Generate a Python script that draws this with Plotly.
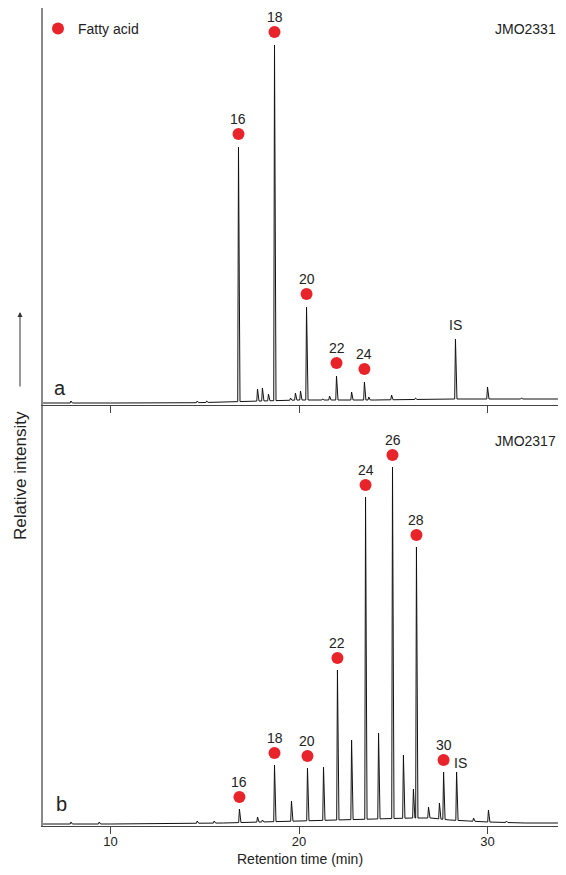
import numpy as np
import plotly.graph_objects as go

# ---------------- data ----------------
# Panel a (JMO2331): peak retention times (min) and apex intensities
a_times = [7.9, 14.6, 15.1, 16.79, 17.80, 18.06, 18.38, 18.70, 19.55, 19.81, 20.08, 20.40,
           21.25, 21.62, 21.99, 22.79, 23.47, 23.7, 24.91, 26.18, 28.30, 30.00, 31.8]
a_heights = [4, 4, 4, 258, 16, 17, 11, 360, 7, 12, 14, 98,
             6, 9, 29, 13, 23, 8, 10, 7, 66, 18, 7]
a_base_t = [6.42, 10, 14, 16, 18, 20, 24, 28, 34.0]
a_base_y = [2, 2, 2, 3, 4, 5, 5, 6, 6]

# Panel b (JMO2317)
b_times = [7.9, 9.4, 14.6, 15.5, 16.84, 17.80, 18.06, 18.70, 19.60, 20.45, 21.30, 22.04,
           22.79, 23.53, 24.22, 24.96, 25.54, 26.07, 26.23, 26.87, 27.45, 27.67,
           28.36, 29.26, 30.05, 31.0]
b_heights = [4, 4, 5, 5, 17, 9, 6, 61, 25, 58, 59, 156,
             86, 329, 93, 359, 71, 37, 279, 19, 23, 54,
             54, 8, 16, 5]
b_base_t = [6.42, 10, 16, 18, 20, 22, 24, 26, 27, 28, 29, 30, 32, 34.0]
b_base_y = [2, 2, 3, 4, 5, 6, 7, 8, 8, 6, 5, 4, 3, 3]

# Fatty acid labels (carbon number) and the peaks they belong to
a_fa_labels = ["16", "18", "20", "22", "24"]
a_fa_times = [16.79, 18.70, 20.40, 21.99, 23.47]
a_fa_heights = [258, 360, 98, 29, 23]

b_fa_labels = ["16", "18", "20", "22", "24", "26", "28", "30"]
b_fa_times = [16.84, 18.70, 20.45, 22.04, 23.53, 24.96, 26.23, 27.67]
b_fa_heights = [17, 61, 58, 156, 329, 359, 279, 54]

# Internal standard
a_is = (28.30, 66)
b_is = (28.36, 54)

x_ticks = [10, 20, 30]

# ---------------- helpers ----------------
def trace_points(times, heights, bt, by, left=0.04, right=0.08):
    pts = []
    for t, y in zip(bt, by):
        if all(abs(t - pt) > 0.12 for pt in times):
            pts.append((t, y))
    for t, h in zip(times, heights):
        pts.append((t - left, float(np.interp(t - left, bt, by))))
        pts.append((t, h))
        pts.append((t + right, float(np.interp(t + right, bt, by))))
    pts.sort(key=lambda p: p[0])
    return [p[0] for p in pts], [p[1] for p in pts]

FONT = "Arial, Liberation Sans, sans-serif"
RED = "#e8232a"
LINE = "#111111"
TXT = "#222222"

ax_t, ax_y = trace_points(a_times, a_heights, a_base_t, a_base_y)
bx_t, bx_y = trace_points(b_times, b_heights, b_base_t, b_base_y)

fig = go.Figure()

fig.add_trace(go.Scatter(x=ax_t, y=ax_y, mode="lines", line=dict(color=LINE, width=1),
                         xaxis="x2", yaxis="y2", showlegend=False, hoverinfo="skip"))
fig.add_trace(go.Scatter(x=bx_t, y=bx_y, mode="lines", line=dict(color=LINE, width=1),
                         xaxis="x", yaxis="y", showlegend=False, hoverinfo="skip"))

A_MOFF = 13  # marker offset above apex (1 unit = 1 px on both panels)
B_MOFF = 12
LOFF = 15
fig.add_trace(go.Scatter(x=a_fa_times, y=[h + A_MOFF for h in a_fa_heights], mode="markers",
                         marker=dict(color=RED, size=12), xaxis="x2", yaxis="y2",
                         name="Fatty acid", showlegend=True))
fig.add_trace(go.Scatter(x=b_fa_times, y=[h + B_MOFF for h in b_fa_heights], mode="markers",
                         marker=dict(color=RED, size=12), xaxis="x", yaxis="y",
                         showlegend=False))

annotations = []
for lab, t, h in zip(a_fa_labels, a_fa_times, a_fa_heights):
    annotations.append(dict(x=t, y=h, xref="x2", yref="y2", text=lab, showarrow=False,
                            yshift=A_MOFF + LOFF, yanchor="middle",
                            font=dict(family=FONT, size=14, color=TXT)))
for lab, t, h in zip(b_fa_labels, b_fa_times, b_fa_heights):
    annotations.append(dict(x=t, y=h, xref="x", yref="y", text=lab, showarrow=False,
                            yshift=B_MOFF + LOFF, yanchor="middle",
                            font=dict(family=FONT, size=14, color=TXT)))
annotations.append(dict(x=a_is[0], y=a_is[1], xref="x2", yref="y2", text="IS", showarrow=False,
                        yshift=14, yanchor="middle", font=dict(family=FONT, size=14, color=TXT)))
annotations.append(dict(x=b_is[0], y=b_is[1], xref="x", yref="y", text="IS", showarrow=False,
                        yshift=9, xshift=4, yanchor="middle", font=dict(family=FONT, size=14, color=TXT)))

# page layout: the page body has an 8 px margin, so the figure starts at (8, 8);
# the figure is kept inside the window so that no scrollbar appears.
FIG_W, FIG_H = 550, 859
PLOT_L, PLOT_R, PLOT_T, PLOT_B = 43, 8 + FIG_W, 8, 826  # page pixels of plot area
H = float(PLOT_B - PLOT_T)
W = float(PLOT_R - PLOT_L)
def py(p):  # page pixel row -> paper y
    return (PLOT_B - p) / H
def px(p):  # page pixel column -> paper x
    return (p - PLOT_L) / W

annotations += [
    dict(x=1.0, y=py(29), xref="paper", yref="paper", text="JMO2331", showarrow=False,
         xanchor="right", yanchor="middle", font=dict(family=FONT, size=14, color=TXT)),
    dict(x=1.0, y=py(441), xref="paper", yref="paper", text="JMO2317", showarrow=False,
         xanchor="right", yanchor="middle", font=dict(family=FONT, size=14, color=TXT)),
    dict(x=px(60), y=py(388), xref="paper", yref="paper", text="a", showarrow=False,
         xanchor="center", yanchor="middle", font=dict(family=FONT, size=20, color=TXT)),
    dict(x=px(61), y=py(804), xref="paper", yref="paper", text="b", showarrow=False,
         xanchor="center", yanchor="middle", font=dict(family=FONT, size=20, color=TXT)),
    dict(x=px(20), y=py(476), xref="paper", yref="paper", text="Relative intensity",
         showarrow=False, textangle=-90, xanchor="center", yanchor="middle",
         font=dict(family=FONT, size=17, color=TXT)),
    dict(x=px(20), y=py(312), xref="paper", yref="paper", text="", showarrow=True,
         ax=0, ay=76, arrowhead=2, arrowsize=1, arrowwidth=1, arrowcolor="#333"),
    dict(x=px(300), y=py(859), xref="paper", yref="paper", text="Retention time (min)",
         showarrow=False, xanchor="center", yanchor="middle",
         font=dict(family=FONT, size=14, color=TXT)),
]

PX_PER_MIN = 18.85
xr = [10 - (110.5 - PLOT_L) / PX_PER_MIN, 30 + (PLOT_R - 487.5) / PX_PER_MIN]
common_x = dict(range=xr, tickvals=x_ticks, ticks="outside", ticklen=7, tickcolor="#444",
                showline=True, linecolor="#444", linewidth=1, showgrid=False, zeroline=False,
                tickfont=dict(family=FONT, size=13, color=TXT))
dom_split = (PLOT_B - 405) / H

fig.update_layout(
    width=FIG_W, height=FIG_H,
    margin=dict(l=PLOT_L - 8, r=FIG_W + 8 - PLOT_R, t=PLOT_T - 8, b=FIG_H + 8 - PLOT_B,
                autoexpand=False),
    paper_bgcolor="white", plot_bgcolor="white",
    xaxis=dict(**common_x, anchor="y", showticklabels=True, ticklabelstandoff=-4),
    xaxis2=dict(**common_x, anchor="y2", showticklabels=False, matches="x"),
    yaxis=dict(domain=[0, dom_split], range=[0, PLOT_B - 405], showline=True, linecolor="#888",
               linewidth=1.5, showticklabels=False, ticks="", showgrid=False, zeroline=False),
    yaxis2=dict(domain=[dom_split, 1], range=[0, 405 - PLOT_T], showline=True, linecolor="#888",
                linewidth=1.5, showticklabels=False, ticks="", showgrid=False, zeroline=False),
    showlegend=True,
    legend=dict(x=px(38), y=py(29), xanchor="left", yanchor="middle", bgcolor="rgba(0,0,0,0)",
                font=dict(family=FONT, size=14, color=TXT)),
    annotations=annotations,
)

fig.write_html("out.html")
